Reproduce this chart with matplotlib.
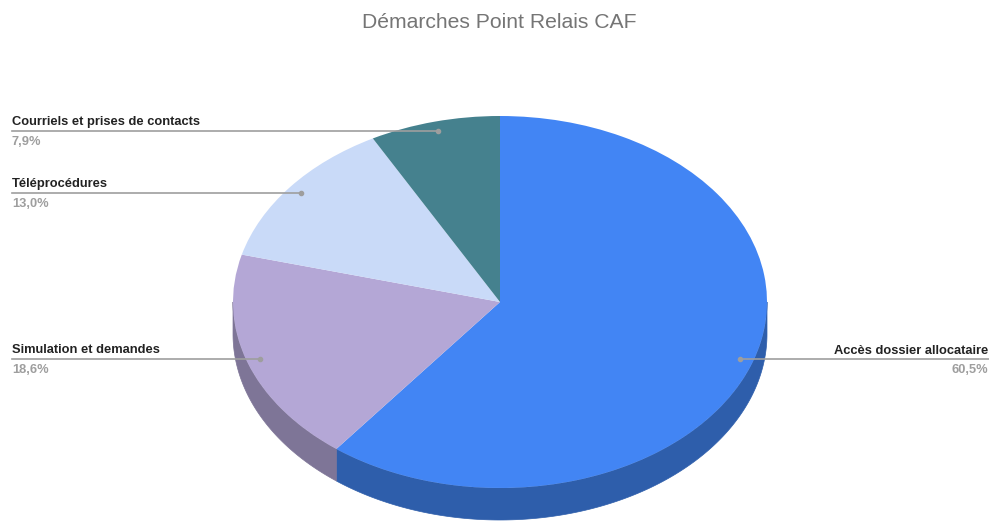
import numpy as np
import matplotlib
matplotlib.use("Agg")
import matplotlib.pyplot as plt
from matplotlib.patches import Polygon
from matplotlib.transforms import blended_transform_factory

plt.rcParams['font.family'] = ['Liberation Sans', 'DejaVu Sans']

# ---- data ----
title = "Démarches Point Relais CAF"
labels = ["Accès dossier allocataire", "Simulation et demandes",
          "Téléprocédures", "Courriels et prises de contacts"]
values = [60.5, 18.6, 13.0, 7.9]
value_labels = ["60,5%", "18,6%", "13,0%", "7,9%"]
colors = ["#4285F4", "#B4A7D6", "#C9DAF8", "#45818E"]
side_colors = ["#2E5EAB", "#7E7597", "#8D99AE", "#305A63"]

# ---- geometry (pixels of a 989x523 canvas) ----
W, H = 989, 523
cx, cy, rx, ry = 500, 302, 267, 186
depth = 32 / ry

fig = plt.figure(figsize=(W / 100, H / 100), dpi=100)
ax = fig.add_axes([0, 0, 1, 1])

wedges, _ = ax.pie(values, colors=colors, startangle=90, counterclock=False,
                   radius=1, center=(0, 0),
                   wedgeprops=dict(linewidth=0, zorder=3))
ax.set_aspect('auto')
ax.set_xlim(-cx / rx, (W - cx) / rx)
ax.set_ylim((cy - H) / ry, cy / ry)
ax.axis('off')

# side walls (front half only)
total = sum(values)
theta = 90.0
for v, sc in zip(values, side_colors):
    a1 = theta
    a2 = theta - v / total * 360.0
    theta = a2
    lo, hi = max(a2, -180.0), min(a1, 0.0)
    if hi <= lo:
        continue
    t = np.radians(np.linspace(lo, hi, 200))
    xs, ys = np.cos(t), np.sin(t)
    verts = np.concatenate([np.column_stack([xs, ys]),
                            np.column_stack([xs[::-1], ys[::-1] - depth])])
    ax.add_patch(Polygon(verts, closed=True, facecolor=sc, edgecolor=sc,
                         linewidth=0.5, zorder=2))

# labels with leader lines
trans = blended_transform_factory(ax.transAxes, ax.transData)
left_x = 12 / W
xmin, xmax = ax.get_xlim()
theta = 90.0
for lab, vl, v in zip(labels, value_labels, values):
    a1 = theta
    a2 = theta - v / total * 360.0
    theta = a2
    mid = np.radians((a1 + a2) / 2)
    dx, dy = 0.95 * np.cos(mid), 0.95 * np.sin(mid)
    dfrac = (dx - xmin) / (xmax - xmin)
    ax.plot([dx], [dy], 'o', color='#9E9E9E', markersize=3, zorder=5)
    if dx >= 0:
        ax.plot([dfrac, 1.0], [dy, dy], color='#9E9E9E', lw=1.2, zorder=4,
                transform=trans)
        xt, ha = (W - 1) / W, 'right'
    else:
        ax.plot([left_x, dfrac], [dy, dy], color='#9E9E9E', lw=1.2, zorder=4,
                transform=trans)
        xt, ha = left_x, 'left'
    ax.annotate(lab, xy=(xt, dy), xycoords=trans, xytext=(0, 1.8),
                textcoords='offset points', ha=ha, va='bottom',
                fontsize=9.3, fontweight='bold', color='#222222')
    ax.annotate(vl, xy=(xt, dy), xycoords=trans, xytext=(0, -3.5),
                textcoords='offset points', ha=ha, va='top',
                fontsize=9.3, color='#9E9E9E', fontweight='bold')

fig.text(499 / W, 1 - 22 / H, title, ha='center', va='center',
         fontsize=15.2, color='#757575')

fig.savefig("out.png", dpi=100)
